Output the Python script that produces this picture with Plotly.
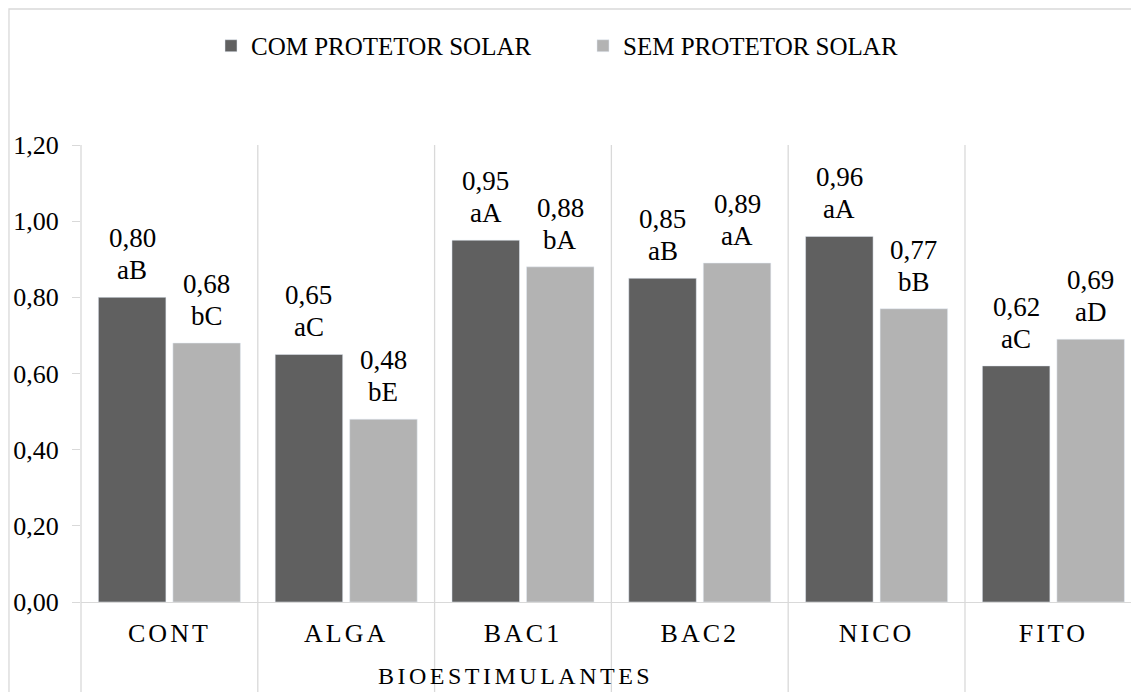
import plotly.graph_objects as go

categories = ["CONT", "ALGA", "BAC1", "BAC2", "NICO", "FITO"]
com_values = [0.80, 0.65, 0.95, 0.85, 0.96, 0.62]
sem_values = [0.68, 0.48, 0.88, 0.89, 0.77, 0.69]
com_letters = ["aB", "aC", "aA", "aB", "aA", "aC"]
sem_letters = ["bC", "bE", "bA", "aA", "bB", "aD"]
series_names = ["COM PROTETOR SOLAR", "SEM PROTETOR SOLAR"]
y_ticks = [0.0, 0.2, 0.4, 0.6, 0.8, 1.0, 1.2]
x_title = "BIOESTIMULANTES"

DARK = "#606060"
LIGHT = "#b3b3b3"
GRID = "#d9d9d9"
FONT = "Liberation Serif"
BARGAP = 0.157
BARGROUPGAP = 0.094

x_idx = list(range(len(categories)))

fig = go.Figure()
fig.add_trace(go.Bar(x=x_idx, y=com_values, name=series_names[0], marker_color=DARK))
fig.add_trace(go.Bar(x=x_idx, y=sem_values, name=series_names[1], marker_color=LIGHT))

def fmt(v):
    return f"{v:.2f}".replace(".", ",")

half = (1 - BARGAP) / 4
annotations = []
for vals, letters, off in [(com_values, com_letters, -half), (sem_values, sem_letters, half)]:
    for i, (v, l) in enumerate(zip(vals, letters)):
        annotations.append(dict(x=i + off, y=v, xref="x", yref="y", text=fmt(v),
                                showarrow=False, yanchor="bottom", yshift=42,
                                font=dict(family=FONT, size=27, color="black")))
        annotations.append(dict(x=i + off, y=v, xref="x", yref="y", text=l,
                                showarrow=False, yanchor="bottom", yshift=10,
                                font=dict(family=FONT, size=27, color="black")))

annotations.append(dict(x=0.414, y=-0.195, xref="paper", yref="paper",
                        text=f"<span style='letter-spacing:3.5px'>{x_title}</span>",
                        showarrow=False, xanchor="center", yanchor="bottom",
                        font=dict(family=FONT, size=24, color="black")))

shapes = []
# category separators
for i in range(len(categories) - 1):
    shapes.append(dict(type="line", xref="x", yref="paper", x0=i + 0.5, x1=i + 0.5,
                       y0=-0.3, y1=1, line=dict(color=GRID, width=1.3), layer="below"))
# y axis line extending down
shapes.append(dict(type="line", xref="paper", yref="paper", x0=0, x1=0,
                   y0=-0.3, y1=1, line=dict(color=GRID, width=1.3)))
# outer chart border
shapes.append(dict(type="rect", xref="paper", yref="paper", x0=-0.0686, x1=1.5,
                   y0=-0.5, y1=1.2976, line=dict(color=GRID, width=1.3), fillcolor="rgba(0,0,0,0)"))

fig.update_layout(
    width=1131, height=692,
    margin=dict(l=81, r=0, t=145, b=90),
    paper_bgcolor="white", plot_bgcolor="white",
    barmode="group", bargap=BARGAP, bargroupgap=BARGROUPGAP,
    separators=",.",
    font=dict(family=FONT, size=26, color="black"),
    showlegend=True,
    legend=dict(orientation="h", x=0.1238, y=1.267, xanchor="left", yanchor="top",
                font=dict(family=FONT, size=25, color="black"),
                itemwidth=30, entrywidth=327, entrywidthmode="pixels",
                bgcolor="rgba(0,0,0,0)"),
    annotations=annotations,
    shapes=shapes,
)
fig.update_xaxes(
    tickvals=x_idx,
    ticktext=[f"<span style='letter-spacing:3px'>{c}</span>" for c in categories],
    range=[-0.5, 5.439],
    showline=True, linecolor=GRID, linewidth=1.3,
    showgrid=False, zeroline=False, ticks="", ticklabelstandoff=8,
    tickfont=dict(family=FONT, size=26, color="black"),
)
fig.update_yaxes(
    range=[0, 1.2], tickvals=y_ticks, tickformat=".2f",
    ticks="outside", ticklen=8, tickcolor=GRID, tickwidth=1.3,
    showline=False, showgrid=False, zeroline=False, ticklabelstandoff=8,
    tickfont=dict(family=FONT, size=26, color="black"),
)

fig.write_html(
    "out.html",
    config={"displayModeBar": False},
    post_script="document.body.style.margin='0';document.documentElement.style.overflow='hidden';",
)
